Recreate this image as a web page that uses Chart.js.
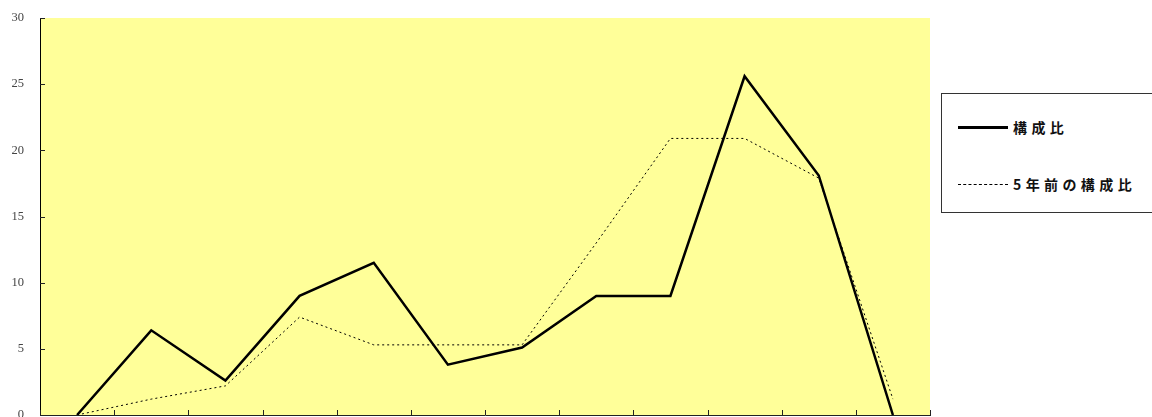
<!DOCTYPE html>
<html>
<head>
<meta charset="utf-8">
<script src="https://cdn.jsdelivr.net/npm/chart.js@4/dist/chart.umd.min.js"></script>
<style>
  html, body { margin: 0; padding: 0; background: #ffffff; }
  #wrap { position: relative; width: 1152px; height: 417px; overflow: hidden; }
  #c { position: absolute; left: 0; top: 0; }
  #legend {
    position: absolute; left: 941px; top: 93px; width: 230px; height: 120px;
    border: 1px solid #333; background: #fff; box-sizing: border-box;
    font-family: "Noto Sans CJK JP", sans-serif; font-size: 14px; font-weight: bold; color: #111;
  }
  .item { position: absolute; left: 16px; height: 20px; display: flex; align-items: center; white-space: nowrap; }
  .swatch { width: 50px; height: 0; margin-right: 5px; }
  .txt { letter-spacing: 4.4px; line-height: 20px; }
</style>
</head>
<body>
<div id="wrap">
  <canvas id="c" width="1152" height="417"></canvas>
  <div id="legend"></div>
</div>
<script>
// ---- data ----
const categories = ['1', '2', '3', '4', '5', '6', '7', '8', '9', '10', '11', '12'];
const seriesNames = ['構成比', '5年前の構成比'];
const currentShare = [0, 6.4, 2.6, 9.0, 11.5, 3.8, 5.1, 9.0, 9.0, 25.6, 18.1, 0];
const share5YearsAgo = [0, 1.2, 2.2, 7.4, 5.3, 5.3, 5.3, 13.0, 20.9, 20.9, 17.9, 1.2];
const yTicks = [0, 5, 10, 15, 20, 25, 30];

const plotBg = {
  id: 'plotBg',
  beforeDraw(chart) {
    const { ctx, chartArea: a } = chart;
    ctx.save();
    ctx.fillStyle = '#FFFF99';
    ctx.fillRect(a.left, a.top, a.right - a.left, a.bottom - a.top);
    ctx.restore();
  },
  afterDraw(chart) {
    const { ctx, chartArea: a, scales } = chart;
    ctx.save();
    ctx.strokeStyle = '#222';
    ctx.lineWidth = 1;
    yTicks.forEach(v => {
      const y = Math.round(scales.y.getPixelForValue(v)) + 0.5;
      ctx.beginPath(); ctx.moveTo(a.left, y); ctx.lineTo(a.left + 5, y); ctx.stroke();
    });
    const n = categories.length;
    const step = (scales.x.getPixelForValue(n - 1) - scales.x.getPixelForValue(0)) / (n - 1);
    for (let i = 0; i <= n; i++) {
      const x = Math.round(scales.x.getPixelForValue(0) - step / 2 + i * step) + 0.5;
      ctx.beginPath(); ctx.moveTo(x, a.bottom); ctx.lineTo(x, a.bottom - 5); ctx.stroke();
    }
    ctx.restore();
  }
};

const chart = new Chart(document.getElementById('c'), {
  type: 'line',
  data: {
    labels: categories,
    datasets: [
      { label: seriesNames[0], data: currentShare, borderColor: '#000', borderWidth: 2.5,
        pointRadius: 0, tension: 0, fill: false },
      { label: seriesNames[1], data: share5YearsAgo, borderColor: '#000', borderWidth: 1,
        borderDash: [2, 3], pointRadius: 0, tension: 0, fill: false }
    ]
  },
  options: {
    responsive: false,
    animation: false,
    events: [],
    layout: { autoPadding: false, padding: { left: 0, right: 222, top: 18, bottom: 2 } },
    plugins: { legend: { display: false }, tooltip: { enabled: false } },
    scales: {
      x: {
        offset: true,
        ticks: { display: false },
        grid: { display: false, drawTicks: false },
        border: { display: true, color: '#222', width: 1 },
        afterFit(s) { s.height = 0; }
      },
      y: {
        min: 0, max: 30,
        ticks: { stepSize: 5, padding: 0, color: '#444',
          font: { family: '"Liberation Serif", "DejaVu Serif", serif', size: 12.5, lineHeight: 0.25 } },
        grid: { display: true, drawOnChartArea: false, drawTicks: true, tickLength: 16,
          tickColor: 'rgba(0,0,0,0)', color: 'rgba(0,0,0,0)' },
        border: { display: true, color: '#000', width: 1 },
        afterFit(s) { s.width = 40; }
      }
    }
  },
  plugins: [plotBg]
});

// ---- legend (HTML) ----
const legend = document.getElementById('legend');
const styles = ['3px solid #000', '1px dashed #000'];
const tops = [23, 80];
seriesNames.forEach((name, i) => {
  const it = document.createElement('div');
  it.className = 'item';
  it.style.top = tops[i] + 'px';
  const sw = document.createElement('span');
  sw.className = 'swatch';
  sw.style.borderTop = styles[i];
  const t = document.createElement('span');
  t.className = 'txt';
  t.textContent = name;
  it.appendChild(sw); it.appendChild(t);
  legend.appendChild(it);
});
</script>
</body>
</html>
